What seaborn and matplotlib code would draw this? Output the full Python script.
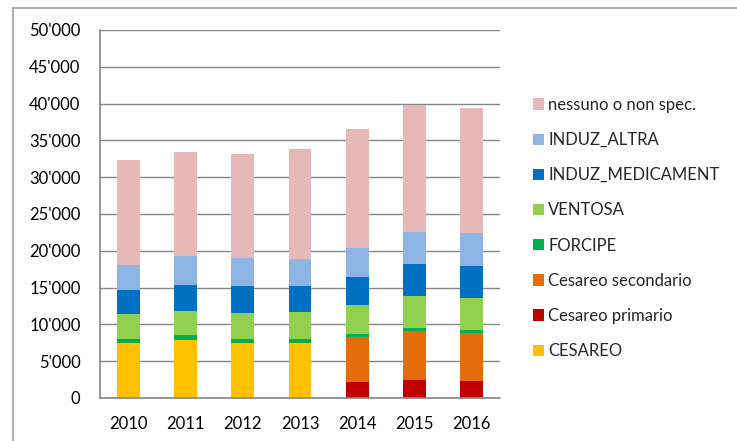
import numpy as np
import pandas as pd
import matplotlib.pyplot as plt
import seaborn as sns
from matplotlib.patches import Patch
from matplotlib.lines import Line2D
from matplotlib.ticker import FuncFormatter, MultipleLocator

sns.set_style("white")
plt.rcParams['font.family'] = ['Lato', 'DejaVu Sans']
plt.rcParams['font.size'] = 12

# Data
years = ["2010", "2011", "2012", "2013", "2014", "2015", "2016"]
cesareo = [7520, 7880, 7520, 7520, 0, 0, 0]
cesareo_primario = [0, 0, 0, 0, 2130, 2400, 2310]
cesareo_secondario = [0, 0, 0, 0, 6120, 6660, 6530]
forcipe = [500, 640, 500, 500, 450, 440, 450]
ventosa = [3350, 3350, 3580, 3620, 3900, 4300, 4310]
induz_medicament = [3310, 3530, 3620, 3580, 3900, 4460, 4340]
induz_altra = [3400, 3900, 3850, 3680, 3900, 4300, 4490]
nessuno = [14220, 14100, 14080, 14900, 16100, 17240, 16970]

# bottom -> top stacking order
series = [
    ("CESAREO", cesareo, "#FFC000"),
    ("Cesareo primario", cesareo_primario, "#C00000"),
    ("Cesareo secondario", cesareo_secondario, "#E46C0A"),
    ("FORCIPE", forcipe, "#00B050"),
    ("VENTOSA", ventosa, "#92D050"),
    ("INDUZ_MEDICAMENT", induz_medicament, "#0070C0"),
    ("INDUZ_ALTRA", induz_altra, "#8EB4E3"),
    ("nessuno o non spec.", nessuno, "#E6B9B8"),
]

df = pd.DataFrame({name: vals for name, vals, _ in series}, index=years)
cum = df.cumsum(axis=1)

fig = plt.figure(figsize=(7.37, 4.41), dpi=100)
ax = fig.add_axes([100 / 737, 1 - 398 / 441, 400 / 737, 368 / 441])

# draw cumulative totals from the top layer down so each layer covers the one above
for name, _, color in reversed(series):
    sns.barplot(x=years, y=cum[name].values, color=color, width=0.4,
                saturation=1, errorbar=None, linewidth=0, ax=ax)

gray = "#868686"
ax.set_ylim(0, 50000)
ax.set_xlim(-0.5, len(years) - 0.5)
ax.yaxis.set_major_locator(MultipleLocator(5000))
ax.yaxis.set_major_formatter(FuncFormatter(lambda v, p: f"{int(v):,}".replace(",", "'")))
ax.grid(axis="y", color=gray, linewidth=1.0)
ax.grid(axis="x", visible=False)
ax.set_axisbelow(True)
for side in ["top", "right"]:
    ax.spines[side].set_visible(False)
for side in ["left", "bottom"]:
    ax.spines[side].set_color(gray)
    ax.spines[side].set_linewidth(1.2)

ax.tick_params(axis="y", length=6, width=1, color=gray, pad=8, labelsize=12, labelcolor="black")
ax.tick_params(axis="x", which="major", length=0, pad=13, labelsize=12, labelcolor="black")
ax.set_xticks(np.arange(-0.5, len(years)), minor=True)
ax.tick_params(axis="x", which="minor", length=4, width=1, color=gray)
ax.set_xlabel("")
ax.set_ylabel("")

# legend, top layer first
handles = [Patch(facecolor=c, edgecolor="none", label=n) for n, _, c in reversed(series)]
fig.legend(handles=handles, loc="center left", bbox_to_anchor=(533 / 737, 1 - 228 / 441),
           frameon=False, fontsize=12, handlelength=0.66, handleheight=0.66,
           handletextpad=0.25, labelspacing=1.15, borderpad=0, borderaxespad=0)

# chart area border (only top and left edges are inside the picture)
bx, by = 13 / 737, 1 - 8 / 441
fig.add_artist(Line2D([bx, 1.0], [by, by], transform=fig.transFigure, color="#a0a0a0", linewidth=1.2))
fig.add_artist(Line2D([bx, bx], [0.0, by], transform=fig.transFigure, color="#a0a0a0", linewidth=1.2))

fig.savefig("out.png", dpi=100)
